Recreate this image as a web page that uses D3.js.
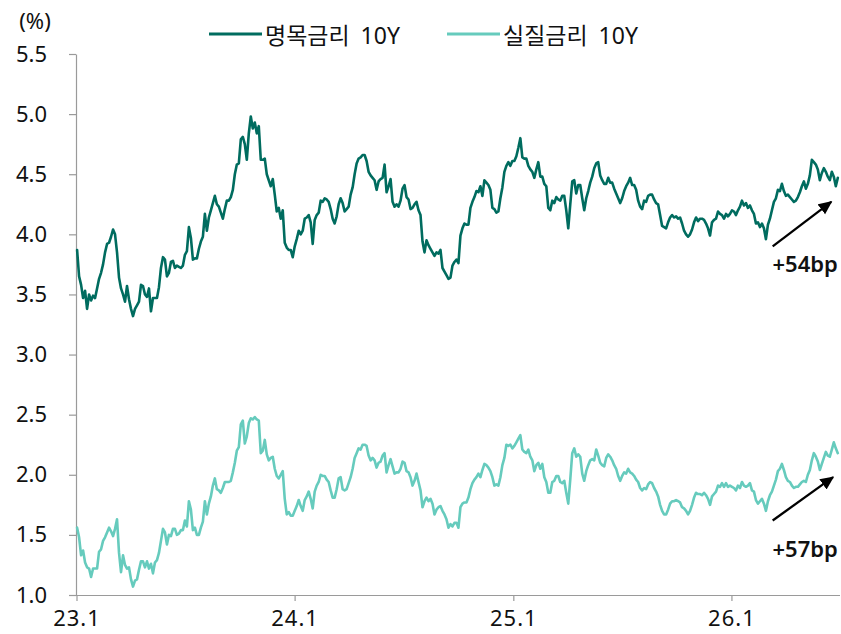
<!DOCTYPE html>
<html><head><meta charset="utf-8">
<script src="https://cdn.jsdelivr.net/npm/d3@7"></script>
<style>
html,body{margin:0;padding:0;background:#fff;}
svg text{font-family:"Noto Sans","Noto Sans CJK KR",sans-serif;fill:#111;}
</style></head>
<body><svg id="chart" width="841" height="634"></svg>
<script>
// ---- data ----
const seriesNames = ["명목금리 10Y", "실질금리 10Y"];
const startDate = "2023-01-02";
const endDate = "2026-06-28";
const nominal10y = [
3.87,3.65,3.58,3.47,3.53,3.38,3.50,3.45,3.49,3.47,
3.55,3.63,3.68,3.75,3.85,3.92,3.93,3.98,4.04,4.00,
3.85,3.64,3.55,3.50,3.44,3.57,3.46,3.38,3.32,3.38,
3.41,3.44,3.58,3.57,3.50,3.48,3.55,3.36,3.47,3.47,
3.47,3.56,3.72,3.81,3.79,3.65,3.68,3.77,3.78,3.72,
3.74,3.73,3.72,3.74,3.83,3.86,4.06,3.97,3.79,3.80,
3.80,3.88,3.94,3.98,4.17,4.03,4.14,4.20,4.26,4.32,
4.25,4.23,4.18,4.13,4.21,4.28,4.28,4.31,4.37,4.50,
4.58,4.59,4.79,4.81,4.75,4.62,4.84,4.98,
4.88,4.93,4.84,4.90,4.62,4.62,4.63,4.50,4.45,4.40,
4.46,4.33,4.19,4.22,4.13,4.20,3.93,3.89,3.87,3.87,
3.81,3.90,3.96,4.03,4.00,4.03,4.13,4.14,4.16,4.10,
3.92,4.12,4.16,4.18,4.28,4.27,4.30,4.29,4.27,4.21,
4.13,4.09,4.15,4.25,4.30,4.26,4.19,4.21,4.23,4.33,
4.39,4.50,4.59,4.63,4.64,4.66,4.66,4.61,4.52,4.49,
4.47,4.45,4.37,4.44,4.46,4.47,4.58,4.35,4.40,4.46,
4.27,4.23,4.25,4.23,4.28,4.38,4.41,4.31,4.29,4.21,
4.22,4.25,4.27,4.20,4.16,3.94,3.85,3.95,3.91,3.88,
3.85,3.82,3.85,3.84,3.87,
3.72,3.69,3.66,3.63,3.64,3.74,3.77,3.79,3.76,3.99,
4.05,4.09,4.08,4.08,4.22,4.27,4.31,4.36,4.35,4.40,
4.32,4.45,4.43,4.41,4.37,4.22,4.21,4.18,4.19,4.30,
4.39,4.52,4.57,4.60,4.57,4.61,4.61,4.65,4.72,4.80,
4.64,4.63,4.63,4.57,4.54,4.52,4.47,4.54,4.60,4.48,
4.48,4.42,4.40,4.22,4.20,4.28,4.26,4.31,4.29,4.28,
4.32,4.32,4.20,4.05,4.25,4.44,4.45,4.34,4.41,4.41,
4.30,4.20,4.30,4.36,4.43,4.48,4.55,4.59,4.60,4.49,
4.45,4.42,4.42,4.47,4.43,4.43,4.38,4.34,4.30,4.26,
4.30,4.36,4.40,4.43,4.47,
4.41,4.41,4.37,4.28,4.23,4.21,4.28,4.27,4.32,4.33,
4.33,4.29,4.26,4.25,4.16,4.07,4.06,4.05,4.10,4.14,
4.16,4.14,4.15,4.13,4.14,4.09,4.03,4.00,3.98,4.00,
4.04,4.10,4.14,4.11,4.13,4.13,4.12,4.09,4.05,3.99,
4.10,4.12,4.13,4.19,4.17,4.16,4.13,4.17,4.15,4.17,
4.20,4.19,4.16,4.20,4.23,4.28,4.24,4.26,4.22,4.24,
4.20,4.17,4.09,4.10,4.06,4.09,4.05,3.96,4.08,4.13,
4.20,4.27,4.30,4.37,4.36,4.42,4.36,4.32,4.33,4.31,
4.29,4.27,4.28,4.31,4.35,4.40,4.44,4.38,4.42,4.49,
4.62,4.60,4.58,4.54,4.45,4.51,4.55,4.52,4.48,4.45,
4.52,4.48,4.40,4.47
];
const real10y = [
1.56,1.48,1.33,1.37,1.27,1.23,1.22,1.15,1.22,1.22,
1.22,1.36,1.38,1.45,1.48,1.52,1.56,1.53,1.49,1.55,
1.63,1.35,1.19,1.33,1.25,1.22,1.23,1.13,1.07,1.12,
1.13,1.21,1.28,1.28,1.23,1.28,1.22,1.26,1.18,1.27,
1.29,1.35,1.45,1.55,1.52,1.42,1.50,1.49,1.55,1.55,
1.50,1.51,1.54,1.54,1.62,1.57,1.78,1.71,1.54,1.56,
1.50,1.50,1.56,1.61,1.78,1.67,1.76,1.82,1.91,1.97,
1.88,1.87,1.85,1.89,1.94,1.94,1.94,1.95,2.02,2.10,
2.20,2.23,2.42,2.45,2.26,2.32,2.43,2.47,
2.46,2.48,2.46,2.45,2.18,2.20,2.29,2.17,2.12,2.14,
2.15,2.05,1.99,1.97,2.00,2.03,1.80,1.67,1.69,1.66,
1.66,1.70,1.74,1.79,1.74,1.70,1.79,1.82,1.86,1.80,
1.72,1.86,1.91,1.94,2.00,1.99,1.99,1.96,1.94,1.87,
1.81,1.81,1.88,1.97,1.98,1.88,1.87,1.88,1.93,1.98,
2.05,2.14,2.18,2.22,2.21,2.25,2.25,2.24,2.16,2.12,
2.14,2.12,2.06,2.10,2.11,2.16,2.18,2.02,2.08,2.13,
2.07,2.01,2.02,2.02,2.05,2.11,2.10,2.03,2.02,1.98,
1.91,1.95,2.01,1.94,1.87,1.73,1.78,1.81,1.78,1.80,
1.76,1.67,1.71,1.73,1.74,
1.70,1.67,1.63,1.56,1.59,1.57,1.60,1.60,1.56,1.73,
1.76,1.77,1.77,1.81,1.88,1.93,1.96,1.98,2.01,1.98,
2.04,2.09,2.08,2.06,2.03,1.98,1.91,1.92,1.91,1.98,
2.08,2.14,2.25,2.24,2.25,2.22,2.24,2.27,2.30,2.33,
2.21,2.19,2.18,2.21,2.15,2.12,2.03,2.08,2.10,2.05,
2.09,1.98,1.94,1.85,1.85,1.94,1.95,1.99,1.99,1.94,
1.93,1.95,1.85,1.76,1.96,2.18,2.22,2.15,2.17,2.15,
2.01,1.95,2.03,2.08,2.12,2.13,2.12,2.21,2.16,2.10,
2.08,2.07,2.14,2.17,2.15,2.12,2.08,2.05,1.99,1.95,
1.99,2.02,2.01,2.05,2.02,
2.01,1.99,1.96,1.94,1.89,1.87,1.89,1.88,1.92,1.94,
1.93,1.89,1.86,1.82,1.75,1.70,1.67,1.67,1.71,1.76,
1.78,1.78,1.79,1.78,1.77,1.73,1.72,1.70,1.67,1.70,
1.75,1.81,1.85,1.84,1.84,1.83,1.85,1.83,1.80,1.75,
1.82,1.84,1.86,1.91,1.90,1.93,1.90,1.93,1.90,1.91,
1.90,1.89,1.87,1.91,1.89,1.94,1.91,1.90,1.91,1.93,
1.87,1.86,1.79,1.76,1.78,1.80,1.76,1.70,1.78,1.83,
1.86,1.91,1.96,2.03,2.05,2.09,2.04,1.98,1.95,1.94,
1.91,1.89,1.90,1.90,1.92,1.94,1.95,1.94,2.00,2.04,
2.12,2.18,2.15,2.11,2.04,2.09,2.14,2.19,2.16,2.15,
2.21,2.27,2.22,2.18
];
const yTicks = [1.0,1.5,2.0,2.5,3.0,3.5,4.0,4.5,5.0,5.5];
const xTickDates = ["2023-01-01","2024-01-01","2025-01-01","2026-01-01"];
const annoLabels = ["+54bp", "+57bp"];
const annoFrom = [["2026-03-11", 3.90], ["2026-03-11", 1.62]];
const annoTo = [["2026-06-17", 4.27], ["2026-06-20", 1.98]];
const annoTextPos = [["2026-06-28", 3.69], ["2026-06-28", 1.32]];

// ---- layout ----
const colors = ["#006C5F", "#66CBBD"];
const svg = d3.select("#chart");
const parse = d3.timeParse("%Y-%m-%d");
const x = d3.scaleTime().domain([new Date(2023,0,1), new Date(2026,6,1)]).range([76.5, 839.6]);
const y = d3.scaleLinear().domain([1.0, 5.5]).range([595, 54]);

const t0 = parse(startDate), t1 = parse(endDate);
function toPoints(vals){
  const n = vals.length;
  return vals.map((v,i)=>({date:new Date(+t0 + i*(t1 - t0)/(n-1)), value:v}));
}
const series = [toPoints(nominal10y), toPoints(real10y)];

// axes
const axisColor = "#9a9a9a";
const yAxis = svg.append("g").attr("transform","translate(76,0)")
  .call(d3.axisLeft(y).tickValues(yTicks).tickFormat(d3.format(".1f")).tickSize(7).tickSizeOuter(0).tickPadding(22));
yAxis.selectAll("path,line").attr("stroke",axisColor).attr("stroke-width",1.2);
yAxis.selectAll("text").attr("font-size",22).attr("fill","#111")
  .style("font-family",'"Noto Sans",sans-serif');

const xAxis = svg.append("g").attr("transform","translate(0,595)")
  .call(d3.axisBottom(x).tickValues(xTickDates.map(parse)).tickFormat(d3.timeFormat("%y.%-m")).tickSize(6).tickSizeOuter(0).tickPadding(9));
xAxis.select(".domain").remove();
xAxis.append("line").attr("x1",69).attr("x2",840).attr("y1",0.5).attr("y2",0.5)
  .attr("stroke",axisColor).attr("stroke-width",1.2);
xAxis.selectAll("line").attr("stroke",axisColor).attr("stroke-width",1.2);
xAxis.selectAll("text").attr("font-size",22).attr("fill","#111")
  .attr("letter-spacing",1)
  .style("font-family",'"Noto Sans",sans-serif');

// unit label
svg.append("text").attr("x",35).attr("y",29).attr("text-anchor","middle")
  .attr("font-size",22).text("(%)");

// lines
const line = d3.line().x(d=>x(d.date)).y(d=>y(d.value));
series.forEach((s,i)=>{
  svg.append("path").datum(s).attr("d",line)
    .attr("fill","none").attr("stroke",colors[i]).attr("stroke-width",2.6)
    .attr("stroke-linejoin","round").attr("stroke-linecap","round");
});

// legend
const legendX = [209, 447];
seriesNames.forEach((name,i)=>{
  const g = svg.append("g").attr("transform",`translate(${legendX[i]},34)`);
  g.append("line").attr("x1",0).attr("x2",53).attr("y1",0).attr("y2",0)
    .attr("stroke",colors[i]).attr("stroke-width",3);
  g.append("text").attr("x",56).attr("y",10).attr("font-size",23)
    .attr("word-spacing",5).text(name);
});

// annotations
svg.append("defs").append("marker").attr("id","arrowhead")
  .attr("viewBox","0 0 10 10").attr("refX",9).attr("refY",5)
  .attr("markerWidth",6).attr("markerHeight",6).attr("orient","auto")
  .append("path").attr("d","M0,0.5 L10,5 L0,9.5 Z").attr("fill","#000");
annoLabels.forEach((lab,i)=>{
  svg.append("line")
    .attr("x1",x(parse(annoFrom[i][0]))).attr("y1",y(annoFrom[i][1]))
    .attr("x2",x(parse(annoTo[i][0]))).attr("y2",y(annoTo[i][1]))
    .attr("stroke","#000").attr("stroke-width",2.3).attr("marker-end","url(#arrowhead)");
  svg.append("text").attr("x",x(parse(annoTextPos[i][0]))).attr("y",y(annoTextPos[i][1]))
    .attr("text-anchor","end").attr("font-size",22).attr("font-weight",600).text(lab);
});
</script></body></html>
